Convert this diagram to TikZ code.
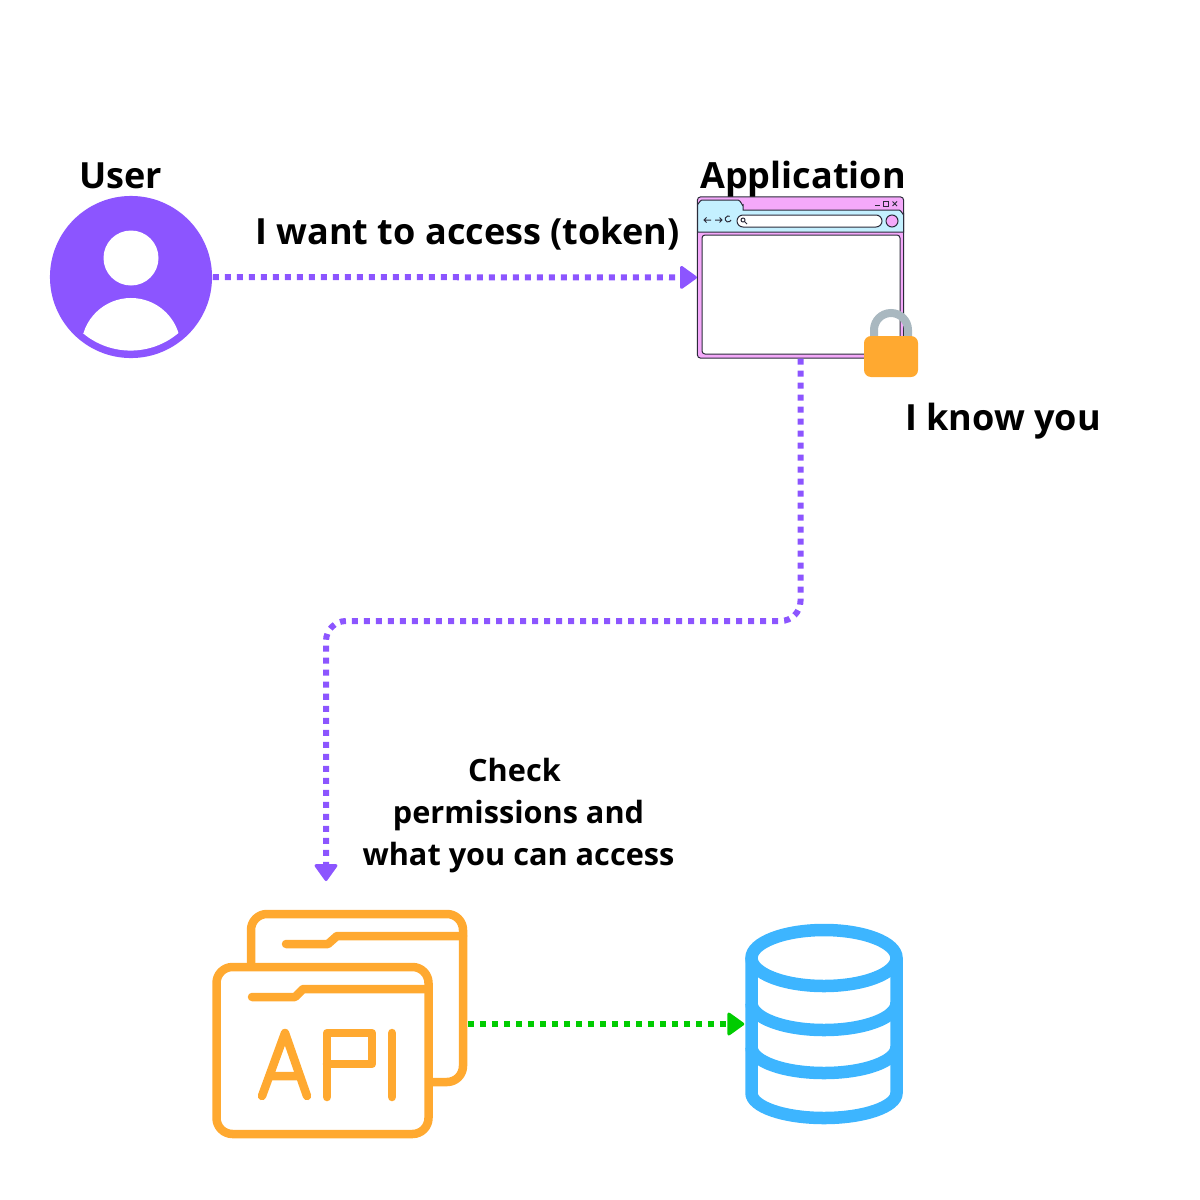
\documentclass[tikz,border=0pt]{standalone}
\usepackage{fontspec}
\setmainfont{Open Sans}
\usetikzlibrary{arrows.meta, positioning, calc}
\definecolor{flowpurple}{HTML}{8C55FF}
\definecolor{flowgreen}{HTML}{00CC00}
\definecolor{apiorange}{HTML}{FFA930}
\definecolor{dbblue}{HTML}{3DB5FF}
\definecolor{winpink}{HTML}{F4A9FA}
\definecolor{winblue}{HTML}{C4F0FF}
\definecolor{winline}{HTML}{2B2B3A}
\definecolor{shacklegray}{HTML}{A9B8C0}

\begin{document}
\begin{tikzpicture}[
    x=0.01cm, y=-0.01cm,
    title/.style={font=\fontsize{10.25}{12}\selectfont\bfseries, inner sep=0pt},
    note/.style={font=\fontsize{8.72}{11.85}\selectfont\bfseries, inner sep=0pt, align=center},
    flow/.style={-{Triangle[length=0.18cm, width=0.25cm, round, line width=0.03cm]}, line width=0.06cm, dash pattern=on 0.06cm off 0.06cm, flowpurple},
    icon/.style={line width=0.085cm, apiorange, line cap=round, line join=round},
    cyl/.style={line width=0.125cm, dbblue},
    win/.style={draw=winline, line width=0.01cm},
    box/.style={rectangle, inner sep=0pt},
]
\useasboundingbox (0,0) rectangle (1200,1200);

% main nodes
\node[circle, fill=flowpurple, inner sep=0pt, minimum size=1.62cm] (user) at (131,277) {};
\node[box, win, fill=winpink, rounded corners=0.03cm, minimum width=2.06cm, minimum height=1.61cm] (app) at (800.5,277.5) {};
\node[box, minimum width=2.54cm, minimum height=2.28cm] (api) at (340,1024) {};
\node[box, minimum width=1.58cm, minimum height=2cm] (db) at (824,1024) {};
\coordinate (turn) at (326,621);
\coordinate (apiin) at (326,881);

% user icon
\fill[white] (131,258) circle (27.5);
\fill[white] (83.5,333) arc[start angle=162.8, end angle=17.2, x radius=49.7, y radius=-49.7]
    arc[start angle=-49.7, end angle=-130.3, x radius=74, y radius=-74] -- cycle;

% browser window
\draw[win, fill=winblue] (697.5,232) -- (697.5,204) to[out=-90, in=180] (702,200) -- (738,200)
    to[out=0, in=-90] (743,205) -- (743,210) -- (899,210) to[out=0, in=-90] (903.5,214) -- (903.5,232) -- cycle;
\draw[win, fill=white, rounded corners=0.03cm] (702,235) rectangle (900,354);
\draw[win, fill=white, rounded corners=0.06cm] (737,215) rectangle (882,227);
\draw[win, fill=winpink] (892,221) circle (6);
\draw[win] (875,205) -- (880,205);
\draw[win] (883,201.5) rectangle (888,206);
\draw[win] (892.5,201.5) -- (897,206) (897,201.5) -- (892.5,206);
\draw[win] (711,220) -- (704,220) (706.5,217.5) -- (704,220) -- (706.5,222.5);
\draw[win] (715,220) -- (722,220) (719.5,217.5) -- (722,220) -- (719.5,222.5);
\draw[win] (731,220) arc[start angle=20, end angle=300, radius=3];
\draw[win] (743,220) circle (2) (744.5,221.5) -- (747,224);

% padlock
\draw[shacklegray, line width=0.08cm] (874,340) -- (874,330) arc[start angle=180, end angle=0, x radius=17, y radius=-17] -- (908,340);
\fill[apiorange, rounded corners=0.07cm] (864,336) rectangle (918,377);

% api folders
\draw[icon] (251,963) -- (251,930) arc[start angle=180, end angle=90, x radius=16, y radius=-16] -- (447,914)
    arc[start angle=90, end angle=0, x radius=16, y radius=-16] -- (463,1066)
    arc[start angle=0, end angle=-90, x radius=16, y radius=-16] -- (432,1082);
\draw[icon] (286,944) -- (328,944) -- (337,936) -- (463,936);
\draw[icon] (232.5,967) -- (412.5,967) arc[start angle=90, end angle=0, x radius=16, y radius=-16] -- (428.5,1118)
    arc[start angle=0, end angle=-90, x radius=16, y radius=-16] -- (232.5,1134)
    arc[start angle=-90, end angle=-180, x radius=16, y radius=-16] -- (216.5,983)
    arc[start angle=180, end angle=90, x radius=16, y radius=-16] -- cycle;
\draw[icon] (252,997) -- (295,997) -- (303,989) -- (428,989);
\draw[icon] (262,1096) -- (285,1033) -- (307,1096) (272,1076) -- (298,1076);
\draw[icon] (327,1097) -- (327,1033) -- (372,1033) -- (372,1064) -- (327,1064);
\draw[icon] (392,1033) -- (392,1097);

% database
\draw[cyl] (824,958) ellipse[x radius=72.5, y radius=28];
\draw[cyl] (751.5,958) -- (751.5,1093) arc[start angle=180, end angle=360, x radius=72.5, y radius=-25] -- (896.5,958);
\draw[cyl] (751.5,1003) arc[start angle=180, end angle=360, x radius=72.5, y radius=-27];
\draw[cyl] (751.5,1047) arc[start angle=180, end angle=360, x radius=72.5, y radius=-26];

% labels
\node[title] (userlabel) at (120.5,176) {User};
\node[title] (applabel) at (803,179) {Application};
\node[title] (tokenlabel) at (467.5,234) {I want to access (token)};
\node[title] (knowlabel) at (1003,421) {I know you};
\node[note] (checklabel) at (518.5,815.5) {Check\hspace*{0.08cm}\\permissions and\\what you can access};

% connectors
\draw[flow] (user) -- (app);
\draw[flow, rounded corners=0.2cm] (app.south) |- (turn) -- (apiin);
\draw[flow, flowgreen] (api) -- (db);
\end{tikzpicture}
\end{document}
